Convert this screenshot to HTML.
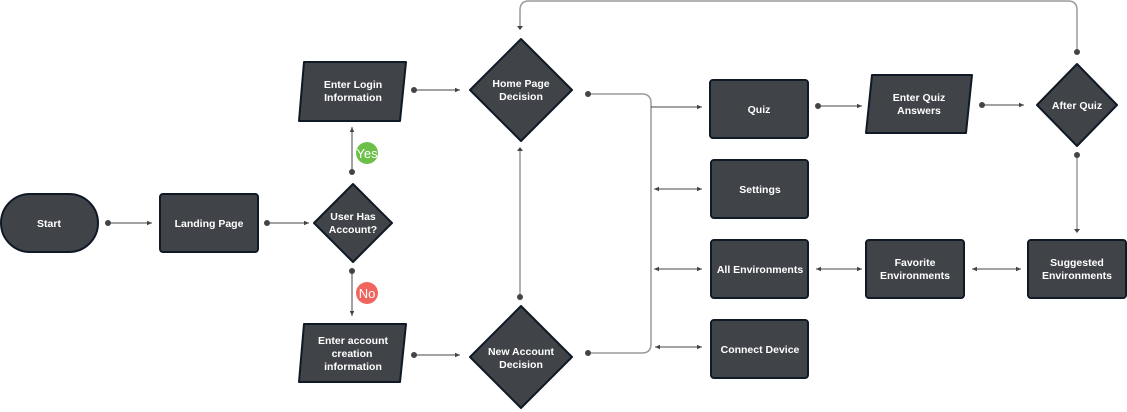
<!DOCTYPE html>
<html><head><meta charset="utf-8"><style>
html,body{margin:0;padding:0;background:#fff;}
svg{display:block;}
text{font-family:"Liberation Sans",sans-serif;font-weight:bold;font-size:10.5px;fill:#fff;text-anchor:middle;}
.n{fill:#404347;stroke:#0f1a26;stroke-width:2;}
.c{stroke:#444;stroke-width:1;fill:none;}
.g{stroke:#9a9a9a;stroke-width:1.5;fill:none;}
.d{fill:#444;}
</style></head><body>
<svg width="1127" height="412" viewBox="0 0 1127 412" xmlns="http://www.w3.org/2000/svg">
<defs>
<marker id="a" markerWidth="6" markerHeight="6" refX="5" refY="3" orient="auto" markerUnits="userSpaceOnUse"><path d="M0,0.8 L5,3 L0,5.2z" fill="#444"/></marker>
<marker id="s" markerWidth="6" markerHeight="6" refX="1" refY="3" orient="auto" markerUnits="userSpaceOnUse"><path d="M6,0.8 L1,3 L6,5.2z" fill="#444"/></marker>
</defs>
<!-- grey trunks -->
<path class="g" d="M1077,52 V10 Q1077,1 1068,1 H529 Q520,1 520,10 V28"/>
<path class="g" d="M1077,155 V230"/>
<path class="g" d="M520,297 V150"/>
<path class="g" d="M588,94 H642 Q651,94 651,103 V344 Q651,353 642,353 H588"/>
<path d="M1074,26 L1077,30 L1080,26z" fill="#444" transform="translate(-557,0)"/>
<path d="M517,151 L520,147 L523,151z" fill="#444"/>
<path d="M1074,229 L1077,233 L1080,229z" fill="#444"/>
<!-- connectors -->
<g class="c">
<path d="M108,223 H152" marker-end="url(#a)"/>
<path d="M267,223 H309" marker-end="url(#a)"/>
<path d="M352,172 V127" marker-end="url(#a)"/>
<path d="M352,271 V316" marker-end="url(#a)"/>
<path d="M414,90 H460" marker-end="url(#a)"/>
<path d="M414,355 H460" marker-end="url(#a)"/>
<path d="M651,107 H702" marker-end="url(#a)"/>
<path d="M654,189 H702" marker-end="url(#a)" marker-start="url(#s)"/>
<path d="M654,269 H702" marker-end="url(#a)" marker-start="url(#s)"/>
<path d="M655,347 H702" marker-end="url(#a)" marker-start="url(#s)"/>
<path d="M818,106 H862" marker-end="url(#a)"/>
<path d="M982,105 H1024" marker-end="url(#a)"/>
<path d="M816,269 H862" marker-end="url(#a)" marker-start="url(#s)"/>
<path d="M972,269 H1021" marker-end="url(#a)" marker-start="url(#s)"/>
</g>
<g class="d">
<circle cx="108" cy="223" r="3"/><circle cx="267" cy="223" r="3"/>
<circle cx="352" cy="172" r="3"/><circle cx="352" cy="271" r="3"/>
<circle cx="414" cy="90" r="3"/><circle cx="414" cy="355" r="3"/>
<circle cx="520" cy="297" r="3"/><circle cx="588" cy="94" r="3"/><circle cx="588" cy="353" r="3"/>
<circle cx="818" cy="106" r="3"/><circle cx="982" cy="105" r="3"/>
<circle cx="1077" cy="52" r="3"/><circle cx="1077" cy="155" r="3"/>
</g>
<circle cx="367" cy="153" r="11" fill="#6cc04a"/><text x="367" y="158" style="font-weight:normal;font-size:13px">Yes</text>
<circle cx="367" cy="293" r="11" fill="#f0655d"/><text x="367" y="298" style="font-weight:normal;font-size:13px">No</text>
<!-- nodes -->
<rect class="n" x="1" y="194" width="97" height="58" rx="29"/><text x="49" y="227">Start</text>
<rect class="n" x="160" y="194" width="98" height="58" rx="3"/><text x="209" y="227">Landing Page</text>
<path class="n" d="M353,184 L392,223 L353,262 L314,223z" stroke-linejoin="round"/><text x="353" y="220">User Has</text><text x="353" y="233">Account?</text>
<path class="n" d="M304,62 H406 L400,121 H299z" stroke-linejoin="round"/><text x="353" y="88">Enter Login</text><text x="353" y="101">Information</text>
<path class="n" d="M304,324 H406 L400,382 H299z" stroke-linejoin="round"/><text x="353" y="344">Enter account</text><text x="352" y="357">creation</text><text x="353" y="370">information</text>
<path class="n" d="M521,39 L572,90 L521,141 L470,90z" stroke-linejoin="round"/><text x="521" y="87">Home Page</text><text x="521" y="100">Decision</text>
<path class="n" d="M521,306 L572,357 L521,408 L470,357z" stroke-linejoin="round"/><text x="521" y="355">New Account</text><text x="521" y="368">Decision</text>
<rect class="n" x="710" y="80" width="98" height="58" rx="3"/><text x="759" y="113">Quiz</text>
<rect class="n" x="711" y="160" width="97" height="58" rx="3"/><text x="760" y="193">Settings</text>
<rect class="n" x="711" y="240" width="97" height="58" rx="3"/><text x="760" y="273">All Environments</text>
<rect class="n" x="711" y="320" width="97" height="58" rx="3"/><text x="760" y="353">Connect Device</text>
<path class="n" d="M872,75 H972 L966,133 H866z" stroke-linejoin="round"/><text x="919" y="101">Enter Quiz</text><text x="919" y="114">Answers</text>
<path class="n" d="M1077,64 L1117,105 L1077,146 L1037,105z" stroke-linejoin="round"/><text x="1077" y="109">After Quiz</text>
<rect class="n" x="866" y="240" width="98" height="58" rx="3"/><text x="915" y="266">Favorite</text><text x="915" y="279">Environments</text>
<rect class="n" x="1028" y="240" width="98" height="58" rx="3"/><text x="1077" y="266">Suggested</text><text x="1077" y="279">Environments</text>
</svg>
</body></html>
